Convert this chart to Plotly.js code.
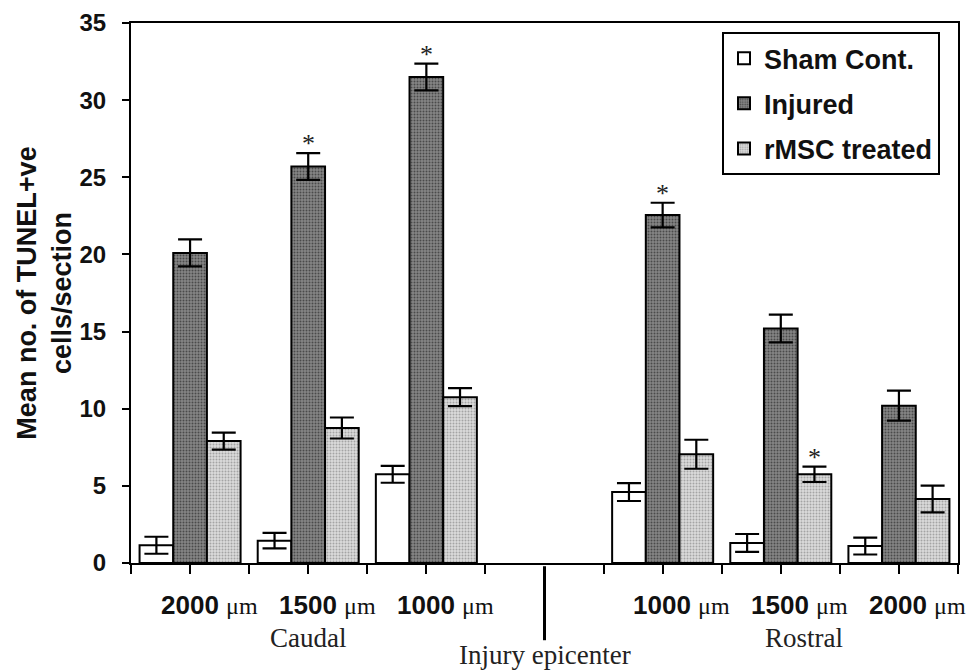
<!DOCTYPE html>
<html>
<head>
<meta charset="utf-8">
<script src="https://cdn.plot.ly/plotly-3.0.1.min.js"></script>
<style>html,body{margin:0;padding:0;background:#fff;}#chart{width:969px;height:671px;}</style>
</head>
<body>
<div id="chart"></div>
<script>
// Distance labels (μm) along the cord; index 3 is the injury epicenter (no bars)
const distances = ['2000', '1500', '1000', '', '1000', '1500', '2000'];
const regionLabels = ['Caudal', 'Injury epicenter', 'Rostral'];
const regionIndex = [1, 3, 5];

const seriesNames = ['Sham Cont.', 'Injured', 'rMSC treated'];
const sham       = [1.15, 1.45, 5.75, null, 4.6, 1.3, 1.1];
const shamErr    = [0.55, 0.5, 0.55, null, 0.58, 0.58, 0.55];
const injured    = [20.1, 25.7, 31.5, null, 22.55, 15.2, 10.2];
const injuredErr = [0.87, 0.87, 0.87, null, 0.8, 0.9, 0.97];
const rmsc       = [7.9, 8.75, 10.75, null, 7.05, 5.75, 4.15];
const rmscErr    = [0.55, 0.68, 0.58, null, 0.94, 0.5, 0.87];
const injuredSig = [false, true, true, false, true, false, false];
const rmscSig    = [false, false, false, false, false, true, false];

const yTickVals = [0, 5, 10, 15, 20, 25, 30, 35];

const xs = distances.map((_, i) => i + 0.5);
const epiIdx = distances.indexOf('');
const bargap = 0.145;
const barW = (1 - bargap) / 3;

function errObj(arr) {
  return {type: 'data', array: arr, visible: true, color: '#000', thickness: 2.2, width: 12};
}
const lineStyle = {color: '#000', width: 2};

const traces = [
  {type: 'bar', name: seriesNames[0], x: xs, y: sham, error_y: errObj(shamErr), legendgroup: 'a',
   marker: {color: '#ffffff', line: lineStyle}},
  {type: 'bar', name: seriesNames[1], x: xs, y: injured, error_y: errObj(injuredErr), legendgroup: 'b',
   marker: {color: '#808080', line: lineStyle,
            pattern: {shape: '.', bgcolor: '#868686', fgcolor: '#4a4a4a', size: 3, solidity: 0.35}}},
  {type: 'bar', name: seriesNames[2], x: xs, y: rmsc, error_y: errObj(rmscErr), legendgroup: 'c',
   marker: {color: '#d8d8d8', line: lineStyle,
            pattern: {shape: '.', bgcolor: '#dcdcdc', fgcolor: '#a4a4a4', size: 3, solidity: 0.35}}}
];

const annotations = [];
const serif = 'Liberation Serif, Times New Roman, serif';
const sans = 'Liberation Sans, Arial, sans-serif';

distances.forEach((d, i) => {
  if (!d) return;
  annotations.push({
    xref: 'x', yref: 'paper', x: xs[i], y: -0.078, xshift: 19, showarrow: false,
    xanchor: 'center', yanchor: 'middle',
    text: '<b>' + d + '</b> <span style="font-family:' + serif + ';font-size:24px">μm</span>',
    font: {family: sans, size: 26, color: '#111'}
  });
});
regionLabels.forEach((t, k) => {
  const i = regionIndex[k];
  const isEpi = i === epiIdx;
  annotations.push({
    xref: 'x', yref: 'paper', x: xs[i], y: isEpi ? -0.171 : -0.139,
    xshift: (k === 2) ? 23 : 0, showarrow: false, xanchor: 'center', yanchor: 'middle',
    text: t, font: {family: serif, size: 27, color: '#222'}
  });
});
injuredSig.forEach((s, i) => {
  if (!s) return;
  annotations.push({xref: 'x', yref: 'y', x: xs[i], y: injured[i] + injuredErr[i], yshift: -7,
    showarrow: false, yanchor: 'bottom', text: '*', font: {family: serif, size: 26, color: '#222'}});
});
rmscSig.forEach((s, i) => {
  if (!s) return;
  annotations.push({xref: 'x', yref: 'y', x: xs[i] + barW, y: rmsc[i] + rmscErr[i], yshift: -7,
    showarrow: false, yanchor: 'bottom', text: '*', font: {family: serif, size: 26, color: '#222'}});
});

// x ticks at group centres and boundaries, except at the epicenter
const xTickVals = [];
for (let k = 0; k <= distances.length * 2; k++) {
  const v = k / 2;
  if (v !== xs[epiIdx]) xTickVals.push(v);
}

const layout = {
  width: 969, height: 671,
  margin: {l: 131, r: 11, t: 23, b: 108},
  paper_bgcolor: '#fff', plot_bgcolor: '#fff',
  barmode: 'group', bargap: bargap, bargroupgap: 0,
  showlegend: true,
  legend: {x: 0.7146, y: 0.983, xanchor: 'left', yanchor: 'top',
           bgcolor: '#fff', bordercolor: '#000', borderwidth: 2,
           font: {family: sans, size: 27, color: '#111', weight: 700},
           tracegroupgap: 7, traceorder: 'grouped', itemwidth: 30},
  xaxis: {range: [0, distances.length], tickmode: 'array', tickvals: xTickVals,
          showticklabels: false, ticks: 'outside', ticklen: 9, tickwidth: 2, tickcolor: '#000',
          showline: true, linecolor: '#000', linewidth: 2, mirror: true,
          showgrid: false, zeroline: false, fixedrange: true},
  yaxis: {range: [0, 35], tickmode: 'array', tickvals: yTickVals,
          ticks: 'outside', ticklen: 7, tickwidth: 2, tickcolor: '#000',
          ticklabelstandoff: 11,
          tickfont: {family: sans, size: 24, color: '#111', weight: 700},
          showline: true, linecolor: '#000', linewidth: 2, mirror: true,
          showgrid: false, zeroline: false, fixedrange: true,
          title: {text: 'Mean no. of TUNEL+ve<br>cells/section', standoff: 0,
                  font: {family: sans, size: 27, color: '#111', weight: 700}}},
  shapes: [{type: 'line', xref: 'x', yref: 'paper', x0: xs[epiIdx], x1: xs[epiIdx],
            y0: -0.006, y1: -0.143, line: {color: '#000', width: 3}}],
  annotations: annotations
};

Plotly.newPlot('chart', traces, layout, {staticPlot: true, displayModeBar: false});
</script>
</body>
</html>
